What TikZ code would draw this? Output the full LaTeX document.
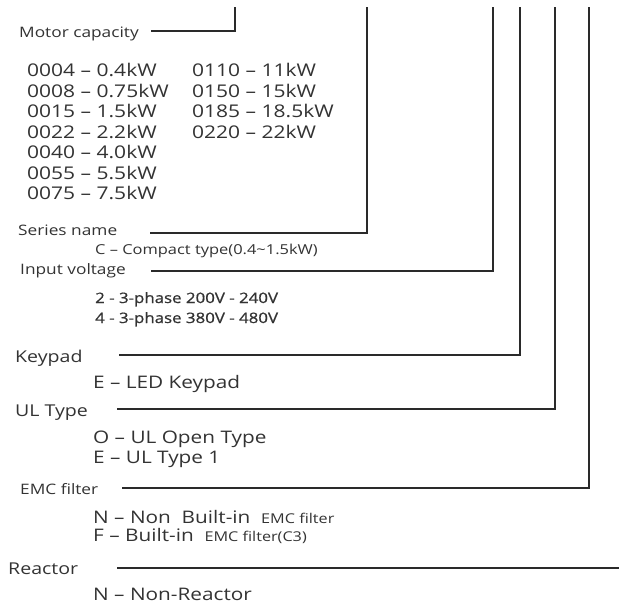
\documentclass[tikz,border=0pt]{standalone}
\usepackage{fontspec}
\setmainfont{Open Sans}
\newfontfamily\wide[FakeStretch=1.2]{Open Sans}
\newfontfamily\widesb[FakeStretch=1.17,FakeBold=0.8]{Open Sans}
\definecolor{txt}{HTML}{333333}
\definecolor{ln}{HTML}{2A2A2A}
\begin{document}
\begin{tikzpicture}[x=1pt,y=-1pt,
  lab/.style={anchor=base west,inner sep=0pt,text=txt},
  small/.style={lab,font=\wide\fontsize{14.4}{17}\selectfont},
  big/.style={lab,font=\wide\fontsize{16.3}{19}\selectfont},
  item/.style={lab,font=\wide\fontsize{17.3}{20}\selectfont},
  kw/.style={lab,font=\wide\fontsize{17.5}{20}\selectfont},
  note/.style={lab,font=\wide\fontsize{13.7}{16}\selectfont},
  volt/.style={lab,font=\widesb\fontsize{14.4}{17}\selectfont},
  lead/.style={draw=ln,line width=2.2pt,line cap=butt,line join=miter}]
\useasboundingbox[fill=white] (0,0) rectangle (619,603);

% labels
\node[small] (motor) at (19,37) {Motor capacity};
\foreach \i/\a/\b in {0/0004 – 0.4kW/0110 – 11kW, 1/0008 – 0.75kW/0150 – 15kW,
  2/0015 – 1.5kW/0185 – 18.5kW, 3/0022 – 2.2kW/0220 – 22kW}{
  \node[kw] (kwa\i) at (27,{76.5+20.5*\i}) {\a};
  \node[kw] (kwb\i) at (192,{76.5+20.5*\i}) {\b};
}
\foreach \i/\a in {4/0040 – 4.0kW, 5/0055 – 5.5kW, 6/0075 – 7.5kW}{
  \node[kw] (kwa\i) at (27,{76.5+20.5*\i}) {\a};
}
\node[small] (series) at (18,235) {Series name};
\node[note] (compact) at (95,254) {C – Compact type(0.4\textasciitilde1.5kW)};
\node[small] (input) at (20,274) {Input voltage};
\node[volt] (v2) at (95,303) {2 - 3-phase 200V - 240V};
\node[volt] (v4) at (95,323) {4 - 3-phase 380V - 480V};
\node[big] (keypad) at (15,362) {Keypad};
\node[item] (led) at (93,388) {E – LED Keypad};
\node[big] (ul) at (15,416) {UL Type};
\node[item] (ulo) at (93,443) {O – UL Open Type};
\node[item] (ule) at (93,463) {E – UL Type 1};
\node[small] (emc) at (20,494) {EMC filter};
\node[item] (emcn) at (93,523) {N – Non\ \ Built-in\ \ {\wide\fontsize{13.5}{16}\selectfont EMC filter}};
\node[item] (emcf) at (93,541) {F – Built-in\ \ {\wide\fontsize{13.5}{16}\selectfont EMC filter(C3)}};
\node[big] (reactor) at (8,574) {Reactor};
\node[item] (nonr) at (93,600) {N – Non-Reactor};

% connector ends
\coordinate (tM) at (235,7);   \coordinate (sM) at (151,31);
\coordinate (tS) at (367,7);   \coordinate (sS) at (150,233);
\coordinate (tI) at (493,7);   \coordinate (sI) at (151,271);
\coordinate (tK) at (520,7);   \coordinate (sK) at (119,355);
\coordinate (tU) at (555,7);   \coordinate (sU) at (117,409);
\coordinate (tE) at (589,7);   \coordinate (sE) at (122,488);
\coordinate (sR) at (117,568); \coordinate (eR) at (619,568);

\draw[lead] (tM) |- (sM);
\draw[lead] (tS) |- (sS);
\draw[lead] (tI) |- (sI);
\draw[lead] (tK) |- (sK);
\draw[lead] (tU) |- (sU);
\draw[lead] (tE) |- (sE);
\draw[lead] (sR) -- (eR);
\end{tikzpicture}
\end{document}
